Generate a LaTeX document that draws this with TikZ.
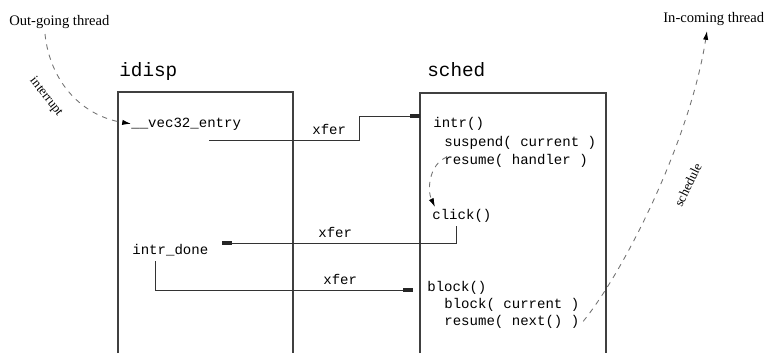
\documentclass[tikz,border=0pt]{standalone}
\usepackage{fontspec}
\setmainfont{Liberation Serif}
\setmonofont{Liberation Mono}
\usetikzlibrary{arrows.meta}

\tikzset{
  code/.style={anchor=base west,inner sep=0pt,font=\ttfamily\fontsize{8}{9}\selectfont},
  title/.style={anchor=base west,inner sep=0pt,font=\ttfamily\fontsize{11}{12}\selectfont},
  caption/.style={anchor=base west,inner sep=0pt,font=\fontsize{8.3}{9}\selectfont},
  tag/.style={inner sep=0pt,font=\fontsize{7.5}{8}\selectfont},
  wall/.style={line width=0.6pt,black!75},
  xfer/.style={line width=0.55pt,black!80,-{Rectangle[length=5.5pt,width=1.8pt,color=black!85]}},
  flow/.style={dashed,line width=0.5pt,black!55,-{Latex[length=5pt,width=3pt,color=black]}}
}

\begin{document}
\begin{tikzpicture}[x=0.02cm,y=-0.02cm]
  \useasboundingbox (0,0) rectangle (765,353);

% module boxes, open at the bottom
  \draw[wall] (118,353) -- (118,92) -- (293,92) -- (293,353);
  \draw[wall] (420,353) -- (420,93) -- (606,93) -- (606,353);
  \node[title] (idisp) at (119,76) {idisp};
  \node[title] (sched) at (427,76) {sched};

% threads
  \node[caption] (outgoing) at (9,25) {Out-going thread};
  \node[caption] (incoming) at (663,22) {In-coming thread};

% code in idisp
  \node[code] (vec)  at (131,127) {\_\_vec32\_entry};
  \node[code] (done) at (132,254) {intr\_done};

% code in sched
  \node[code] (intr)    at (433,127) {intr()};
  \node[code] (susp)    at (444,146) {suspend( current )};
  \node[code] (rhandle) at (444,164) {resume( handler )};
  \node[code] (click)   at (432,219) {click()};
  \node[code] (blk)     at (427,291) {block()};
  \node[code] (bcur)    at (444,308) {block( current )};
  \node[code] (rnext)   at (444,325) {resume( next() )};

% transfers between the modules
  \coordinate (x1a) at (209,140);
  \coordinate (x1b) at (420,116);
  \draw[xfer] (x1a) -- (359,140) |- (x1b);
  \node[code] (xfer1) at (312,134) {xfer};

  \coordinate (x2a) at (456,226);
  \coordinate (x2b) at (222,243);
  \draw[xfer] (x2a) |- (x2b);
  \node[code] (xfer2) at (318,237) {xfer};

  \coordinate (x3a) at (155,261);
  \coordinate (x3b) at (413,290);
  \draw[xfer] (x3a) |- (x3b);
  \node[code] (xfer3) at (323,284) {xfer};

% thread switches
  \coordinate (irqstart) at (45,34);
  \draw[flow] (irqstart) .. controls (50,82) and (82,116) .. (vec.west);
  \node[tag,rotate=-52] (irq) at (46,97) {interrupt};

  \coordinate (hstart) at (447,157);
  \coordinate (hend) at (435,207);
  \draw[flow] (hstart) .. controls (429,164) and (427,190) .. (hend);

  \coordinate (schedend) at (707,31);
  \draw[flow] ([xshift=2pt]rnext.east) .. controls (625,270) and (690,140) .. (schedend);
  \node[tag,rotate=64] (schedlbl) at (688,185) {schedule};

\end{tikzpicture}
\end{document}
